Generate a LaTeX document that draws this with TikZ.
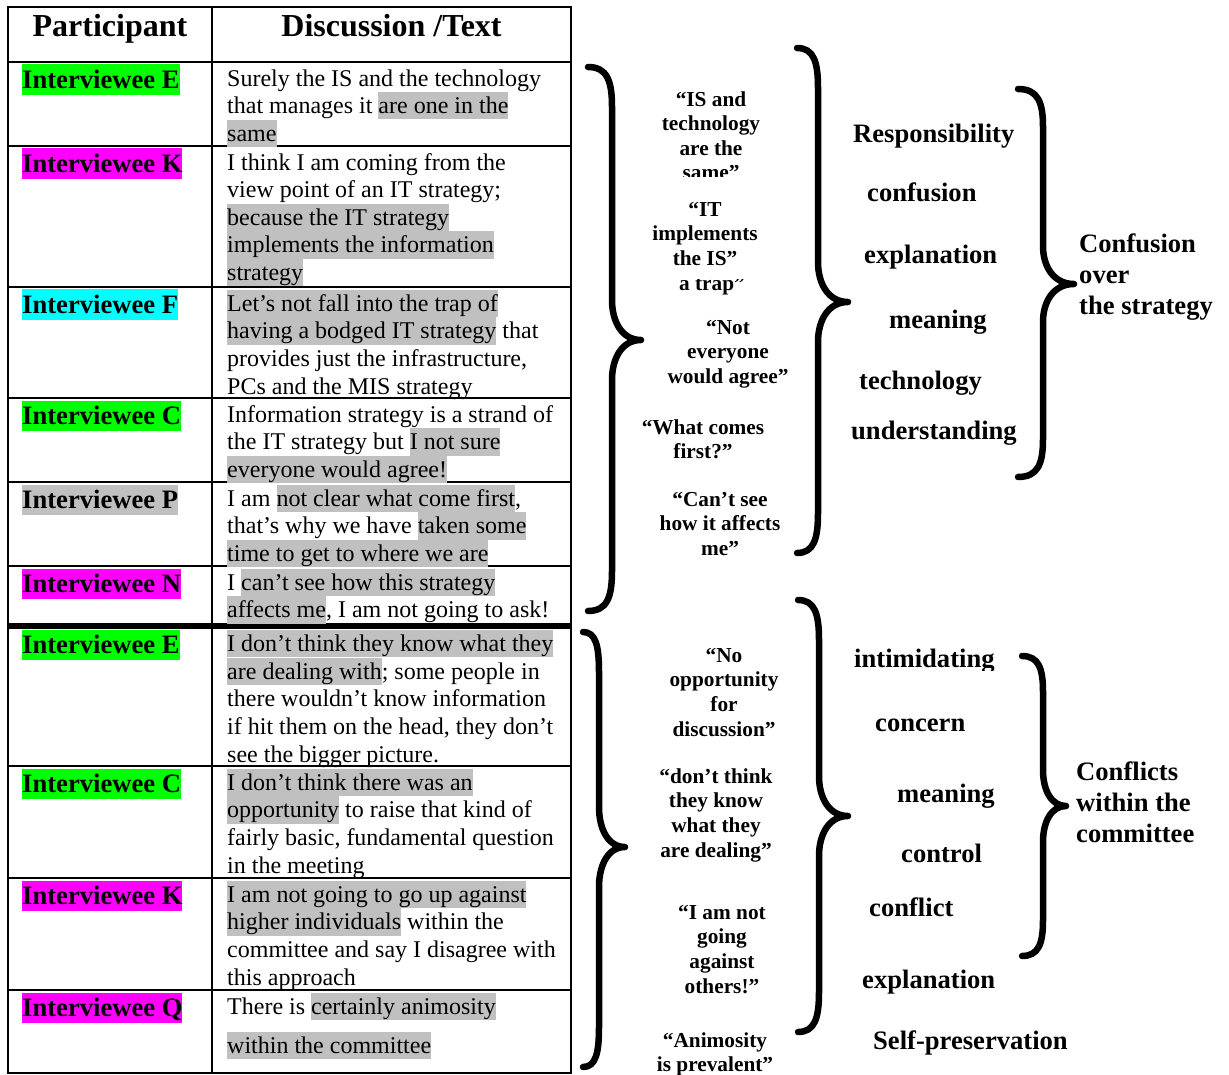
\documentclass[tikz,border=0pt]{standalone}
\usepackage{fontspec}
\setmainfont{Liberation Serif}
\usepackage{xcolor}
\definecolor{hlgray}{HTML}{C0C0C0}
\definecolor{hlgreen}{HTML}{00FF00}
\definecolor{hlmagenta}{HTML}{FF00FF}
\definecolor{hlcyan}{HTML}{00FFFF}

% grey text marker spanning the full line height
\newcommand\hl[1]{{\setlength{\fboxsep}{0pt}\colorbox{hlgray}{\rule[-5.7pt]{0pt}{27.4pt}#1}}}
\newcommand\bodystrut{\rule[-5.7pt]{0pt}{27.4pt}}
\newcommand\qstrut{\rule{0pt}{19pt}}
\newcommand\wstrut{\rule{0pt}{24pt}}

% right-pointing curly brace: ends x, spine x, tip x, top y, tip y, bottom y, bend
\newcommand\sidebrace[7]{%
  \draw[bracepen] (#1,#4) .. controls ({#1+0.8*(#2-#1)},#4) and (#2,{#4+0.35*#7}) .. (#2,{#4+#7})
    -- (#2,{#5-#7}) .. controls (#2,{#5-0.45*#7}) and ({#2+0.35*(#3-#2)},#5) .. (#3,#5)
    .. controls ({#2+0.35*(#3-#2)},#5) and (#2,{#5+0.45*#7}) .. (#2,{#5+#7})
    -- (#2,{#6-#7}) .. controls (#2,{#6-0.35*#7}) and ({#1+0.8*(#2-#1)},#6) .. (#1,#6);}

\tikzset{
  cell/.style={anchor=north west, inner sep=0pt, align=left, font=\fontsize{24}{27.6}\selectfont},
  who/.style={anchor=north west, inner sep=0pt, text height=24.2pt, text depth=6.2pt,
              font=\fontsize{26.6}{30}\selectfont\bfseries},
  headtxt/.style={anchor=base, inner sep=0pt, font=\fontsize{32}{36}\selectfont\bfseries},
  quotetxt/.style={anchor=north, inner sep=0pt, align=center, font=\fontsize{21.3}{24.6}\selectfont\bfseries},
  codeword/.style={anchor=base west, inner sep=0pt, font=\fontsize{26.6}{31}\selectfont\bfseries},
  theme/.style={anchor=north west, inner sep=0pt, align=left, font=\fontsize{26.6}{31}\selectfont\bfseries},
  gridline/.style={line width=2.2pt},
  bracepen/.style={line width=6.5pt, line cap=round, line join=round},
}

\begin{document}
\begin{tikzpicture}[x=1pt,y=-1pt]
\useasboundingbox (0,0) rectangle (1229,1075);

% ---------- table ----------
\draw[gridline] (8,7) rectangle (571,1073);
\draw[gridline] (212,7) -- (212,1073);
\foreach \yy in {62,146,287,398,482,566,766,878,990}
  \draw[gridline] (8,\yy) -- (571,\yy);
\draw[line width=5.5pt] (8,626) -- (571,626);

\node[headtxt] (hPart) at (110,37) {Participant};
\node[headtxt] (hDisc) at (391.5,37) {Discussion /Text};

% participants
\node[who, fill=hlgreen]   (pE)  at (22,64.3)  {Interviewee E};
\node[who, fill=hlmagenta] (pK)  at (22,148.3) {Interviewee K};
\node[who, fill=hlcyan]    (pF)  at (22,289.3) {Interviewee F};
\node[who, fill=hlgreen]   (pC)  at (22,400.3) {Interviewee C};
\node[who, fill=hlgray]    (pP)  at (22,484.3) {Interviewee P};
\node[who, fill=hlmagenta] (pN)  at (22,568.3) {Interviewee N};
\node[who, fill=hlgreen]   (pE2) at (22,629.5) {Interviewee E};
\node[who, fill=hlgreen]   (pC2) at (22,768.3) {Interviewee C};
\node[who, fill=hlmagenta] (pK2) at (22,880.3) {Interviewee K};
\node[who, fill=hlmagenta] (pQ)  at (22,992.3) {Interviewee Q};

% discussion text
\node[cell] (tE) at (227,64.3) {\bodystrut Surely the IS and the technology\\
that manages it \hl{are one in the}\\
\hl{same}};
\node[cell] (tK) at (227,148.3) {\bodystrut I think I am coming from the\\
view point of an IT strategy;\\
\hl{because the IT strategy}\\
\hl{implements the information}\\
\hl{strategy}};
\node[cell] (tF) at (227,289.3) {\hl{Let’s not fall into the trap of}\\
\hl{having a bodged IT strategy} that\\
provides just the infrastructure,\\
PCs and the MIS strategy};
\node[cell] (tC) at (227,400.3) {\bodystrut Information strategy is a strand of\\
the IT strategy but \hl{I not sure}\\
\hl{everyone would agree!}};
\node[cell] (tP) at (227,484.3) {\bodystrut I am \hl{not clear what come first},\\
that’s why we have \hl{taken some}\\
\hl{time to get to where we are}};
\node[cell] (tN) at (227,568.3) {\bodystrut I \hl{can’t see how this strategy}\\
\hl{affects me}, I am not going to ask!};
\node[cell] (tE2) at (227,629.8) {\hl{I don’t think they know what they}\\
\hl{are dealing with}; some people in\\
there wouldn’t know information\\
if hit them on the head, they don’t\\
see the bigger picture.};
\node[cell] (tC2) at (227,768.3) {\hl{I don’t think there was an}\\
\hl{opportunity} to raise that kind of\\
fairly basic, fundamental question\\
in the meeting};
\node[cell] (tK2) at (227,880.3) {\hl{I am not going to go up against}\\
\hl{higher individuals} within the\\
committee and say I disagree with\\
this approach};
\node[cell] (tQ) at (227,992.3) {\bodystrut There is \hl{certainly animosity}\\[11.4pt]
\hl{within the committee}};

% ---------- braces ----------
\sidebrace{588}{612}{641}{67}{340}{611}{40}
\sidebrace{797}{818}{848}{48}{302}{553}{40}
\sidebrace{1018}{1043}{1074}{89}{284}{477}{38}
\sidebrace{583}{599}{625}{632}{847}{1067}{40}
\sidebrace{798}{819}{848}{600}{816}{1032}{40}
\sidebrace{1022}{1043}{1066}{656}{806}{956}{36}

% ---------- quotations ----------
\begin{scope}
  \clip (630,80) rectangle (800,177);
  \node[quotetxt] (q1) at (711,87) {\qstrut“IS and\\ technology\\ are the\\ same”};
\end{scope}
\node[quotetxt] (q2) at (705,197) {\qstrut“IT\\ implements\\ the IS”};
\begin{scope}
  \clip (630,279.5) rectangle (800,300);
  \node[quotetxt, anchor=base] (q2b) at (712,290.5) {a trap”};
\end{scope}
\node[quotetxt] (q3) at (728,315) {\qstrut“Not\\ everyone\\ would agree”};
\node[quotetxt] (q4) at (703,415) {\qstrut“What comes\\ first?”};
\node[quotetxt] (q5) at (720,487) {\qstrut“Can’t see\\ how it affects\\ me”};
\node[quotetxt] (q6) at (724,643) {\qstrut“No\\ opportunity\\ for\\ discussion”};
\node[quotetxt] (q7) at (716,764) {\qstrut“don’t think\\ they know\\ what they\\ are dealing”};
\node[quotetxt] (q8) at (722,900) {\qstrut“I am not\\ going\\ against\\ others!”};
\node[quotetxt] (q9) at (715,1028) {\qstrut“Animosity\\ is prevalent”};

% ---------- codes ----------
\node[codeword] (c1) at (853,143) {Responsibility};
\node[codeword] (c2) at (867,202) {confusion};
\node[codeword] (c3) at (864,264) {explanation};
\node[codeword] (c4) at (889,329) {meaning};
\node[codeword] (c5) at (859,389) {technology};
\node[codeword] (c6) at (851,439) {understanding};

\begin{scope}
  \clip (840,630) rectangle (1010,670);
  \node[codeword] (d1) at (854,667) {intimidating};
\end{scope}
\node[codeword] (d2) at (875,731) {concern};
\node[codeword] (d3) at (897,802) {meaning};
\node[codeword] (d4) at (901,862) {control};
\node[codeword] (d5) at (869,916) {conflict};
\node[codeword] (d6) at (862,988) {explanation};
\node[codeword] (d7) at (873,1049) {Self-preservation};

% ---------- themes ----------
\node[theme] (th1) at (1079,228) {\wstrut Confusion\\ over\\ the strategy};
\node[theme] (th2) at (1076,756) {\wstrut Conflicts\\ within the\\ committee};
\end{tikzpicture}
\end{document}
